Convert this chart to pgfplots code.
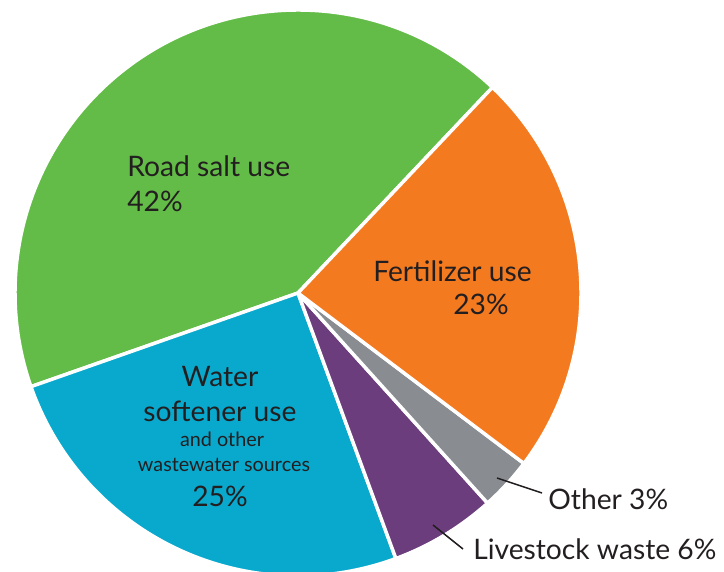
\documentclass[border=0pt]{standalone}
\usepackage{pgfplots}
\usepackage{pgfplotstable}
\pgfplotsset{compat=1.18}
\usepackage{fontspec}
\setmainfont{Lato}
\definecolor{cgreen}{HTML}{63BC47}
\definecolor{corange}{HTML}{F47A20}
\definecolor{cblue}{HTML}{09A9CD}
\definecolor{cpurple}{HTML}{6B3D7C}
\definecolor{cgray}{HTML}{898D91}
\definecolor{ctext}{HTML}{231F20}
\pgfplotstableread{
label value color
Road 42 cgreen
Water 25 cblue
Livestock 6 cpurple
Other 3 cgray
Fertilizer 23 corange
}\piedata
\begin{document}
\begin{tikzpicture}
\begin{axis}[scale only axis, width=7.24in, height=5.72in,
  xmin=0, xmax=724, ymin=0, ymax=572, hide axis, clip=true]
\def\curangle{46.6}
\pgfplotsforeachungrouped \i in {0,...,4}{%
  \pgfplotstablegetelem{\i}{value}\of\piedata \let\v\pgfplotsretval
  \pgfplotstablegetelem{\i}{color}\of\piedata \let\c\pgfplotsretval
  \pgfmathsetmacro\endangle{\curangle+\v*360/99}%
  \edef\temp{\noexpand\fill[\c, draw=white, line width=2.5pt, line join=round] (axis cs:298,279) -- ++(\curangle:2.83in) arc[start angle=\curangle, end angle=\endangle, radius=2.83in] -- cycle;}%
  \temp
  \global\let\curangle\endangle
}
\draw[ctext, line width=1.1pt] (axis cs:497,94) -- (axis cs:542,79);
\draw[ctext, line width=1.1pt] (axis cs:433,47) -- (axis cs:463,23);
\node[anchor=base west, inner sep=0, text=ctext, font=\fontsize{20.4pt}{24pt}\selectfont] at (axis cs:127,395) {Road salt use};
\node[anchor=base west, inner sep=0, text=ctext, font=\fontsize{20.4pt}{24pt}\selectfont] at (axis cs:127,360) {42\%};
\node[anchor=base west, inner sep=0, text=ctext, font=\fontsize{20.4pt}{24pt}\selectfont] at (axis cs:373,290) {Fertilizer use};
\node[anchor=base west, inner sep=0, text=ctext, font=\fontsize{20.4pt}{24pt}\selectfont] at (axis cs:453,257) {23\%};
\node[anchor=base, inner sep=0, text=ctext, font=\fontsize{20.4pt}{24pt}\selectfont] at (axis cs:220,185) {Water};
\node[anchor=base, inner sep=0, text=ctext, font=\fontsize{20.4pt}{24pt}\selectfont] at (axis cs:220,150) {softener use};
\node[anchor=base, inner sep=0, text=ctext, font=\fontsize{14.3pt}{17pt}\selectfont] at (axis cs:222,125) {and other};
\node[anchor=base, inner sep=0, text=ctext, font=\fontsize{14.3pt}{17pt}\selectfont] at (axis cs:224,100) {wastewater sources};
\node[anchor=base, inner sep=0, text=ctext, font=\fontsize{20.4pt}{24pt}\selectfont] at (axis cs:220,65) {25\%};
\node[anchor=base west, inner sep=0, text=ctext, font=\fontsize{20.4pt}{24pt}\selectfont] at (axis cs:548,62) {Other 3\%};
\node[anchor=base west, inner sep=0, text=ctext, font=\fontsize{20.4pt}{24pt}\selectfont] at (axis cs:473,12) {Livestock waste 6\%};
\end{axis}
\pgfresetboundingbox
\path (current axis.south west) rectangle (current axis.north east);
\end{tikzpicture}
\end{document}
